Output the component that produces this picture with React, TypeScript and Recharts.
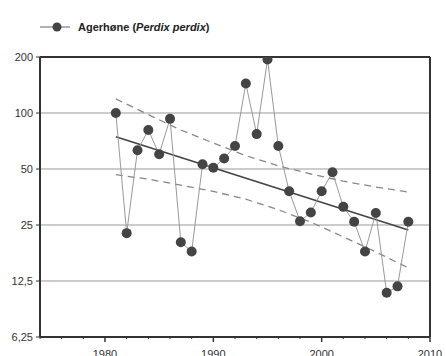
import React from 'react';
import { LineChart, Line, XAxis, YAxis, CartesianGrid, ReferenceLine } from 'recharts';

// Index counts per year (log scale)
const years = [1981, 1982, 1983, 1984, 1985, 1986, 1987, 1988, 1989, 1990, 1991, 1992, 1993, 1994, 1995, 1996, 1997, 1998, 1999, 2000, 2001, 2002, 2003, 2004, 2005, 2006, 2007, 2008];
const counts = [100, 22.6, 63, 81, 60, 93, 20.2, 18, 53, 50.8, 57, 66.5, 144, 77, 194, 66.5, 38, 26.2, 29.2, 38, 48, 31.3, 26, 18, 29, 10.8, 11.7, 26];

// trend line end points
const trendYears = [1981, 2008];
const trendValues = [74.6, 23.5];

// confidence band
const bandYears = [1981, 1984, 1987, 1990, 1993, 1996, 1999, 2002, 2005, 2008];
const bandUpper = [119, 98, 81, 69, 59, 52, 47, 43, 40, 37.6];
const bandLower = [46.6, 44.1, 40.9, 37.9, 34.4, 30.2, 25.9, 21.6, 17.9, 14.7];

const yTicks = [6.25, 12.5, 25, 50, 100, 200];
const xTicks = [1974, 1976, 1978, 1980, 1982, 1984, 1986, 1988, 1990, 1992, 1994, 1996, 1998, 2000, 2002, 2004, 2006, 2008, 2010];
const xLabels = [1980, 1990, 2000, 2010];

const seriesName = 'Agerhøne';
const latinName = 'Perdix perdix';

const mainData = years.map((year, i) => ({ year, v: counts[i] }));
const trendData = trendYears.map((year, i) => ({ year, v: trendValues[i] }));
const upperData = bandYears.map((year, i) => ({ year, v: bandUpper[i] }));
const lowerData = bandYears.map((year, i) => ({ year, v: bandLower[i] }));

const FONT = '"Liberation Sans", Arial, sans-serif';

const XTick = (props: any) => {
  const { x, y, payload } = props;
  const major = xLabels.includes(payload.value);
  return (
    <g>
      <line x1={x} x2={x} y1={y} y2={y + (major ? 5 : 2)} stroke="#333" strokeWidth={major ? 1.5 : 1} />
      {major && (
        <text x={x} y={y + 21} textAnchor="middle" fontSize={11} fill="#333" fontFamily={FONT}>
          {payload.value}
        </text>
      )}
    </g>
  );
};

export default function App() {
  return (
    <div style={{ position: 'absolute', left: 0, top: 0, width: 446, height: 356, background: '#fff', fontFamily: FONT }}>
      <svg width={240} height={40} style={{ position: 'absolute', left: 0, top: 0 }}>
        <line x1={40} x2={70} y1={27} y2={27} stroke="#999" strokeWidth={1.5} />
        <circle cx={57} cy={27} r={4.5} fill="#444" />
        <text x={78} y={31} fontSize={11} fontWeight="bold" fill="#222" fontFamily={FONT}>
          {seriesName} (<tspan fontStyle="italic">{latinName}</tspan>)
        </text>
      </svg>
      <LineChart
        width={446}
        height={356}
        data={mainData}
        margin={{ top: 57, right: 16, bottom: 0, left: 0 }}
        style={{ position: 'absolute', left: 0, top: 0 }}
      >
        <CartesianGrid vertical={false} stroke="#bbb" strokeWidth={1.5} />
        <XAxis
          dataKey="year"
          type="number"
          domain={[1974, 2010]}
          ticks={xTicks}
          interval={0}
          height={19}
          tickSize={0}
          tickMargin={0}
          tickLine={false}
          tick={<XTick />}
          axisLine={{ stroke: '#333', strokeWidth: 2 }}
          allowDataOverflow
        />
        <YAxis
          scale="log"
          domain={[6.25, 200]}
          ticks={yTicks}
          interval={0}
          width={40}
          allowDataOverflow
          tickSize={4}
          tickMargin={3}
          tickLine={{ stroke: '#333' }}
          axisLine={{ stroke: '#333', strokeWidth: 2 }}
          tickFormatter={(v: number) => String(v).replace('.', ',')}
          tick={{ fontSize: 11, fill: '#333', fontFamily: FONT }}
        />
        <ReferenceLine y={200} stroke="#333" strokeWidth={2} />
        <ReferenceLine x={2010} stroke="#333" strokeWidth={2} />
        <Line data={upperData} dataKey="v" stroke="#888" strokeWidth={1.3} strokeDasharray="7 5" dot={false} isAnimationActive={false} />
        <Line data={lowerData} dataKey="v" stroke="#888" strokeWidth={1.3} strokeDasharray="7 5" dot={false} isAnimationActive={false} />
        <Line data={trendData} dataKey="v" stroke="#444" strokeWidth={1.6} dot={false} isAnimationActive={false} />
        <Line
          dataKey="v"
          stroke="#999"
          strokeWidth={1}
          dot={{ r: 5, fill: '#444', stroke: 'none' }}
          isAnimationActive={false}
        />
      </LineChart>
    </div>
  );
}
